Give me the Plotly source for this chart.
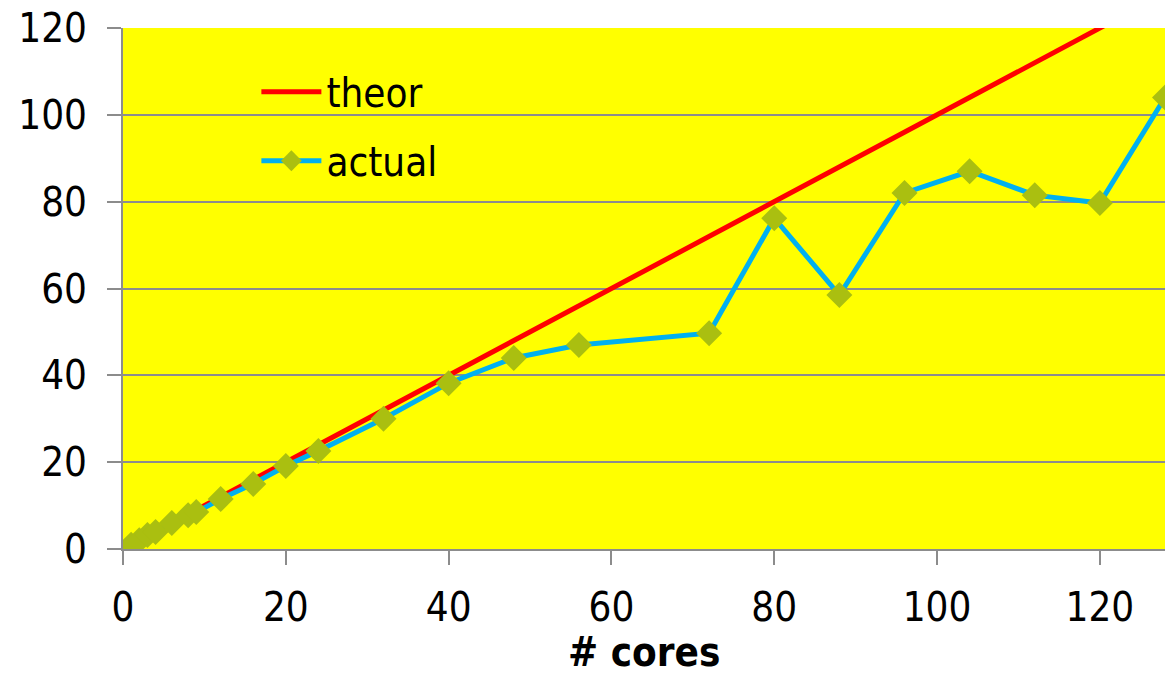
import plotly.graph_objects as go

cores = [1, 2, 3, 4, 6, 8, 9, 12, 16, 20, 24, 32, 40, 48, 56, 72, 80, 88, 96, 104, 112, 120, 128]
theor = cores
actual = [1, 2, 3.2, 3.9, 6, 7.8, 8.5, 11.5, 15, 19.1, 22.6, 30, 38.2, 44, 47, 49.7, 76.2, 58.5, 82, 87, 81.5, 79.7, 104]

x_ticks = [0, 20, 40, 60, 80, 100, 120]
y_ticks = [0, 20, 40, 60, 80, 100, 120]
x_title = "# cores"

FONT = "DejaVu Sans Condensed, DejaVu Sans"
FS = 40

fig = go.Figure()
fig.add_trace(go.Scatter(x=cores, y=theor, name="theor", mode="lines", legendgroup="a",
                         line=dict(color="#FF0000", width=5)))
fig.add_trace(go.Scatter(x=cores, y=actual, name="actual", mode="lines+markers", legendgroup="b",
                         line=dict(color="#00B0F0", width=5),
                         marker=dict(symbol="diamond", size=20, color="#AABF10")))

fig.update_layout(
    width=1165, height=676,
    margin=dict(l=123, r=0, t=28, b=127),
    paper_bgcolor="white", plot_bgcolor="#FFFF00",
    font=dict(family=FONT, size=FS, color="black"),
    legend=dict(x=0.128, y=0.94, xanchor="left", yanchor="top",
                bgcolor="rgba(0,0,0,0)", font=dict(size=FS), tracegroupgap=14,
                traceorder="grouped", itemwidth=60),
    showlegend=True,
)
fig.add_annotation(text="<b>" + x_title + "</b>", xref="paper", yref="paper",
                   x=0.5, y=-0.197, xanchor="center", yanchor="middle",
                   showarrow=False, font=dict(size=40), borderpad=0)
fig.update_xaxes(range=[0, 128], tickvals=x_ticks, showgrid=False, zeroline=False,
                 showline=True, linecolor="#8C8C8C", linewidth=2, automargin=False,
                 ticks="outside", ticklen=14, tickcolor="#8C8C8C", tickwidth=2,
                 ticklabelstandoff=8, tickfont=dict(size=FS))
fig.update_yaxes(range=[0, 120], tickvals=y_ticks, showgrid=True, gridcolor="#8C8C8C",
                 gridwidth=2, zeroline=False, showline=True, linecolor="#8C8C8C",
                 linewidth=2, ticks="outside", ticklen=14, tickcolor="#8C8C8C",
                 tickwidth=2, ticklabelstandoff=12, tickfont=dict(size=FS), automargin=False)

fig.write_html("out.html")
